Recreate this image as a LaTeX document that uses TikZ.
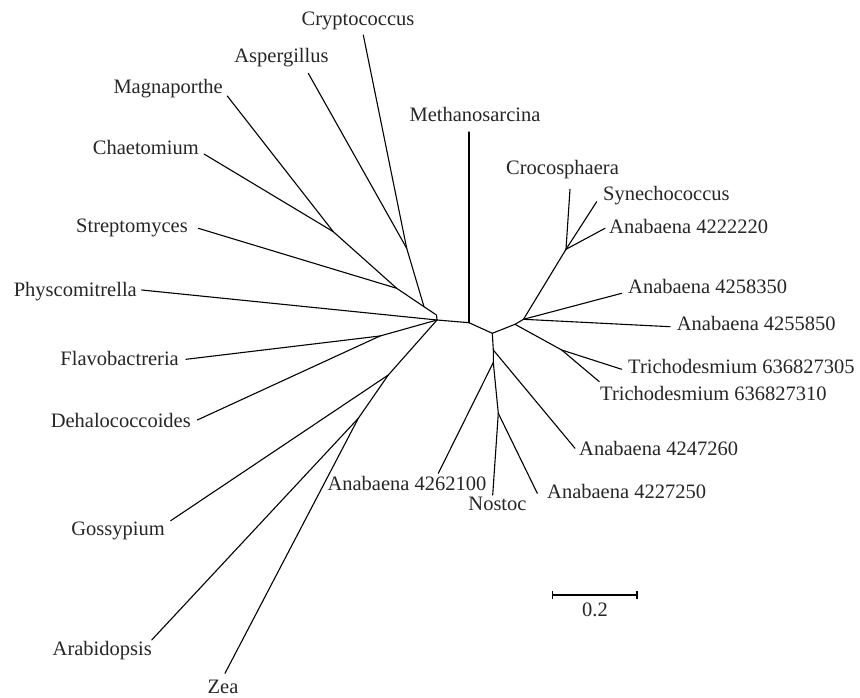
\documentclass[tikz,border=0pt]{standalone}
\usepackage{fontspec}
\setmainfont{Liberation Serif}
\begin{document}
\begin{tikzpicture}[x=1pt,y=-1pt,
  br/.style={line width=1.1pt, line cap=round, line join=round},
  lab/.style={inner sep=0pt, text height=0.66em, text depth=0pt,
    font=\fontsize{20.5}{24}\selectfont, text=black!85}]
\useasboundingbox (0,0) rectangle (860,698);
% internal nodes
\coordinate (L1) at (437,320);
\coordinate (L2) at (436.5,315);
\coordinate (F)  at (424,306.7);
\coordinate (CA) at (406.7,248.3);
\coordinate (MS) at (396.7,288.3);
\coordinate (MC) at (333.3,231.7);
\coordinate (FD) at (380,336);
\coordinate (G)  at (388.3,375);
\coordinate (AZ) at (358.3,418.3);
\coordinate (C1) at (469,322.7);
\coordinate (C2) at (492.3,333.3);
\coordinate (R1) at (515,324.3);
\coordinate (R2) at (523.5,319.3);
\coordinate (CS) at (566,249.3);
\coordinate (T)  at (561.7,350);
\coordinate (D1) at (493.3,350);
\coordinate (D2) at (493.3,362.5);
\coordinate (D3) at (498.3,413.3);
% leaf ends
\coordinate (eCry) at (363.3,35);
\coordinate (eAsp) at (308.3,73.3);
\coordinate (eMag) at (227.3,96);
\coordinate (eCha) at (204,154);
\coordinate (eStr) at (198.3,228.3);
\coordinate (ePhy) at (141.7,290);
\coordinate (eFla) at (186,359.3);
\coordinate (eDeh) at (197.3,420);
\coordinate (eGos) at (170.7,520.7);
\coordinate (eAra) at (151.7,640);
\coordinate (eZea) at (225,673.3);
\coordinate (eMet) at (469,132);
\coordinate (eCro) at (570,189.3);
\coordinate (eSyn) at (596.7,201.7);
\coordinate (eA22) at (605,228.3);
\coordinate (eA58) at (621.7,293.3);
\coordinate (eA55) at (670,326.7);
\coordinate (eT05) at (621.7,369.3);
\coordinate (eT10) at (599.3,381.7);
\coordinate (eA47) at (575,448.3);
\coordinate (eA62) at (438.3,473.3);
\coordinate (eNos) at (492.7,495);
\coordinate (eA27) at (537.3,493.3);
% labels
\node[lab] (tCry) at (358,22.7) {Cryptococcus};
\node[lab] (tAsp) at (281.5,59) {Aspergillus};
\node[lab,anchor=east] (tMag) at (223,90.7) {Magnaporthe};
\node[lab,anchor=east] (tCha) at (199,151.7) {Chaetomium};
\node[lab,anchor=east] (tStr) at (188,229.3) {Streptomyces};
\node[lab,anchor=east] (tPhy) at (137,293.3) {Physcomitrella};
\node[lab,anchor=east] (tFla) at (179,362.3) {Flavobactreria};
\node[lab,anchor=east] (tDeh) at (191,424) {Dehalococcoides};
\node[lab,anchor=east] (tGos) at (165,531.7) {Gossypium};
\node[lab,anchor=east] (tAra) at (152,651.7) {Arabidopsis};
\node[lab] (tZea) at (223,690) {Zea};
\node[lab] (tMet) at (475,118) {Methanosarcina};
\node[lab] (tCro) at (562.5,171.7) {Crocosphaera};
\node[lab,anchor=west] (tSyn) at (603,197.3) {Synechococcus};
\node[lab,anchor=west] (tA22) at (609,230) {Anabaena 4222220};
\node[lab,anchor=west] (tA58) at (628,290) {Anabaena 4258350};
\node[lab,anchor=west] (tA55) at (676.7,326.7) {Anabaena 4255850};
\node[lab,anchor=west] (tT05) at (628,370) {Trichodesmium 636827305};
\node[lab,anchor=west] (tT10) at (600,396.7) {Trichodesmium 636827310};
\node[lab,anchor=west] (tA47) at (579,452) {Anabaena 4247260};
\node[lab] (tA62) at (407,486.7) {Anabaena 4262100};
\node[lab] (tNos) at (497.5,506.7) {Nostoc};
\node[lab,anchor=west] (tA27) at (547,495) {Anabaena 4227250};
% internal branches
\draw[br] (L1) -- (L2) -- (F) -- (CA);
\draw[br] (F) -- (MS) -- (MC);
\draw[br] (L1) -- (FD);
\draw[br] (L1) -- (G) -- (AZ);
\draw[br] (L1) -- (C1) -- (C2) -- (R1) -- (R2) -- (CS);
\draw[br] (R1) -- (T);
\draw[br] (C2) -- (D1) -- (D2) -- (D3);
% leaf branches
\draw[br] (CA) -- (eCry);
\draw[br] (CA) -- (eAsp);
\draw[br] (MC) -- (eMag);
\draw[br] (MC) -- (eCha);
\draw[br] (MS) -- (eStr);
\draw[br] (L1) -- (ePhy);
\draw[br] (FD) -- (eFla);
\draw[br] (FD) -- (eDeh);
\draw[br] (G) -- (eGos);
\draw[br] (AZ) -- (eAra);
\draw[br] (AZ) -- (eZea);
\draw[br] (C1) -- (eMet);
\draw[br] (CS) -- (eCro);
\draw[br] (CS) -- (eSyn);
\draw[br] (CS) -- (eA22);
\draw[br] (R2) -- (eA58);
\draw[br] (R2) -- (eA55);
\draw[br] (T) -- (eT05);
\draw[br] (T) -- (eT10);
\draw[br] (D1) -- (eA47);
\draw[br] (D2) -- (eA62);
\draw[br] (D3) -- (eNos);
\draw[br] (D3) -- (eA27);
% scale bar
\coordinate (sL) at (552.7,595);
\coordinate (sR) at (637,595);
\draw[br,line cap=butt] (sL) -- (sR);
\draw[br,line cap=butt] ([yshift=-4]sL) -- ([yshift=4]sL);
\draw[br,line cap=butt] ([yshift=-4]sR) -- ([yshift=4]sR);
\node[lab] (tScale) at (595,613.3) {0.2};
\end{tikzpicture}
\end{document}
